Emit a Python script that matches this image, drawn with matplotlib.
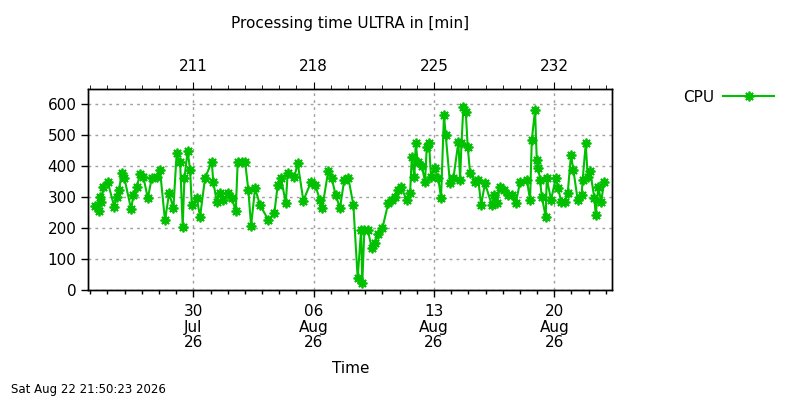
import datetime as dt
import matplotlib
matplotlib.use("Agg")
import matplotlib.pyplot as plt
import matplotlib.dates as mdates
from matplotlib.ticker import FixedLocator, MultipleLocator

# day of year (2026) and CPU processing time in minutes
doy = [205.28, 205.51, 205.57, 205.63, 205.76, 206.02, 206.40, 206.54, 206.68, 206.83,
       206.99, 207.38, 207.51, 207.71, 207.90, 208.09, 208.35, 208.58, 208.87, 209.06,
       209.35, 209.59, 209.84, 210.03, 210.23, 210.38, 210.48, 210.67, 210.81, 210.91,
       211.20, 211.39, 211.68, 212.07, 212.16, 212.36, 212.55, 212.75, 213.04, 213.23,
       213.47, 213.58, 213.82, 214.01, 214.20, 214.36, 214.59, 214.88, 215.36, 215.71,
       215.91, 216.10, 216.38, 216.49, 216.88, 217.07, 217.40, 217.85, 218.08, 218.37,
       218.50, 218.85, 219.05, 219.28, 219.53, 219.78, 220.02, 220.31, 220.56, 220.76,
       220.83, 220.95, 221.15, 221.38, 221.57, 221.76, 222.00, 222.34, 222.54, 222.73,
       222.89, 223.08, 223.41, 223.61, 223.71, 223.86, 223.94, 224.05, 224.29, 224.48,
       224.58, 224.71, 224.83, 225.06, 225.25, 225.41, 225.58, 225.68, 225.93, 226.13,
       226.42, 226.52, 226.60, 226.71, 226.85, 226.96, 227.10, 227.39, 227.58, 227.74,
       227.97, 228.36, 228.51, 228.65, 228.84, 229.09, 229.33, 229.55, 229.76, 230.01,
       230.40, 230.59, 230.69, 230.88, 230.98, 231.07, 231.17, 231.27, 231.50, 231.56,
       231.81, 232.08, 232.23, 232.39, 232.62, 232.78, 232.97, 233.11, 233.36, 233.59,
       233.65, 233.83, 233.94, 234.08, 234.33, 234.41, 234.56, 234.72, 234.91]
cpu = [272, 257, 302, 286, 334, 350, 268, 302, 323, 379,
       361, 261, 307, 334, 375, 366, 297, 361, 365, 388,
       225, 313, 265, 442, 415, 205, 361, 450, 388, 275,
       297, 237, 361, 415, 350, 286, 313, 291, 313, 297,
       257, 415, 415, 415, 323, 207, 329, 275, 227, 248,
       340, 361, 281, 379, 366, 410, 289, 350, 340, 291,
       265, 386, 361, 307, 265, 356, 361, 275, 39, 195,
       23, 195, 195, 135, 152, 182, 200, 281, 291, 302,
       323, 334, 291, 313, 431, 366, 474, 415, 401, 350,
       463, 474, 366, 394, 361, 297, 565, 501, 345, 361,
       479, 356, 474, 592, 576, 463, 379, 350, 356, 275,
       345, 275, 307, 281, 334, 323, 307, 307, 281, 350,
       356, 291, 485, 581, 420, 394, 356, 302, 237, 361,
       291, 361, 329, 286, 286, 313, 436, 388, 291, 307,
       356, 474, 366, 386, 297, 243, 334, 286, 350]

date_ticks = ["2026-07-30", "2026-08-06", "2026-08-13", "2026-08-20"]
doy_ticks = [211, 218, 225, 232]
y_ticks = [0, 100, 200, 300, 400, 500, 600]
x_range = (204.89, 235.375)
y_range = (0, 648)


def to_date(d):
    return dt.datetime(2026, 1, 1) + dt.timedelta(days=d - 1)


green = "#00c000"
plt.rcParams["font.family"] = "DejaVu Sans"

fig = plt.figure(figsize=(8, 4), dpi=100)
ax = fig.add_axes([0.1104, 0.2743, 0.6550, 0.5025])

times = [to_date(d) for d in doy]
ax.plot(times, cpu, color=green, lw=1.5, marker=(8, 2, 0), ms=7, mew=1.3,
        label="CPU", clip_on=False)

ax.set_xlim(to_date(x_range[0]), to_date(x_range[1]))
ax.set_ylim(*y_range)
ax.xaxis.set_major_locator(FixedLocator([mdates.datestr2num(s) for s in date_ticks]))
ax.xaxis.set_minor_locator(mdates.DayLocator())
ax.xaxis.set_major_formatter(mdates.DateFormatter("%d\n%b\n%y"))
ax.set_yticks(y_ticks)
ax.tick_params(axis="both", which="major", direction="out", length=5, width=1,
               labelsize=11, colors="black")
ax.tick_params(axis="x", which="minor", direction="out", length=3, width=1)
ax.tick_params(axis="x", which="major", pad=5)
for lbl in ax.get_xticklabels():
    lbl.set_linespacing(1.05)
ax.grid(True, which="major", color="#a0a0a0", ls=(0, (2, 3)), lw=1)
ax.set_xlabel("Time", fontsize=11, labelpad=8)

top = ax.twiny()
top.set_xlim(*x_range)
top.xaxis.set_major_locator(FixedLocator(doy_ticks))
top.xaxis.set_minor_locator(MultipleLocator(1))
top.tick_params(axis="x", which="major", direction="out", length=5, labelsize=11, pad=6)
top.tick_params(axis="x", which="minor", direction="out", length=3)

for a in (ax, top):
    for s in a.spines.values():
        s.set_linewidth(1)

fig.text(0.4375, 0.942, "Processing time ULTRA in [min]", ha="center", va="center", fontsize=11)
fig.text(0.014, 0.025, "Sat Aug 22 21:50:23 2026", ha="left", va="center", fontsize=8.5)

leg = ax.legend(loc="center right", bbox_to_anchor=(0.975, 0.757), bbox_transform=fig.transFigure,
                frameon=False, markerfirst=False, fontsize=11, handlelength=3.3,
                handletextpad=0.6, borderaxespad=0)

fig.savefig("out.png", dpi=100)
